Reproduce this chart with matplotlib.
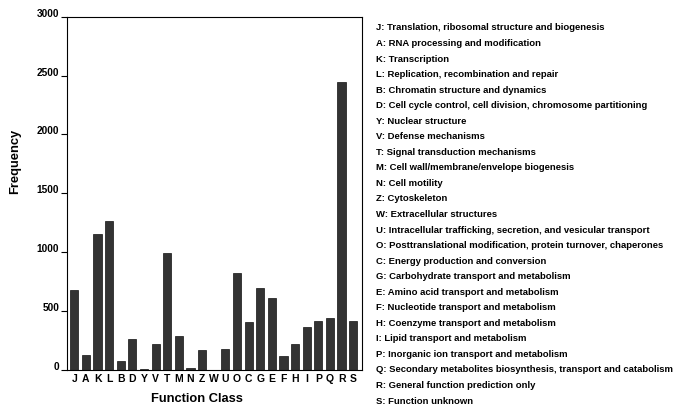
import matplotlib
matplotlib.use('Agg')
from matplotlib import pyplot as plt

classes = ['J', 'A', 'K', 'L', 'B', 'D', 'Y', 'V', 'T', 'M', 'N', 'Z', 'W',
           'U', 'O', 'C', 'G', 'E', 'F', 'H', 'I', 'P', 'Q', 'R', 'S']
counts = [679, 127, 1155, 1265, 79, 260, 8, 221, 996, 292, 14, 167, 0,
          178, 821, 410, 693, 609, 116, 221, 365, 416, 439, 2442, 416]
descriptions = [
    'Translation, ribosomal structure and biogenesis',
    'RNA processing and modification',
    'Transcription',
    'Replication, recombination and repair',
    'Chromatin structure and dynamics',
    'Cell cycle control, cell division, chromosome partitioning',
    'Nuclear structure',
    'Defense mechanisms',
    'Signal transduction mechanisms',
    'Cell wall/membrane/envelope biogenesis',
    'Cell motility',
    'Cytoskeleton',
    'Extracellular structures',
    'Intracellular trafficking, secretion, and vesicular transport',
    'Posttranslational modification, protein turnover, chaperones',
    'Energy production and conversion',
    'Carbohydrate transport and metabolism',
    'Amino acid transport and metabolism',
    'Nucleotide transport and metabolism',
    'Coenzyme transport and metabolism',
    'Lipid transport and metabolism',
    'Inorganic ion transport and metabolism',
    'Secondary metabolites biosynthesis, transport and catabolism',
    'General function prediction only',
    'Function unknown',
]
yticks = [0, 500, 1000, 1500, 2000, 2500, 3000]

plt.rcParams['font.family'] = ['Liberation Sans', 'DejaVu Sans']
plt.rcParams['font.weight'] = 'bold'

fig = plt.figure(figsize=(6.83, 4.17), dpi=100)
ax = fig.add_axes([0.0977, 0.1127, 0.433, 0.8473])

x = range(len(classes))
ax.bar(x, counts, width=0.7, color='#333333', edgecolor='#111111', linewidth=0.5)

ax.set_xlim(-0.65, 24.8)
ax.set_ylim(0, 3000)
ax.set_xticks(list(x))
ax.set_xticklabels(classes, fontsize=7.5, fontweight='bold')
ax.set_yticks(yticks)
ax.set_yticklabels([str(v) for v in yticks], fontsize=7.3, fontweight='bold')
plt.setp(ax.get_yticklabels(), va='baseline')
ax.tick_params(axis='x', length=0, pad=3)
ax.tick_params(axis='y', length=4, width=0.8, pad=1.5)
for s in ax.spines.values():
    s.set_linewidth(0.8)

fig.text(0.022, 1 - 161 / 417, 'Frequency', rotation=90, ha='center', va='center',
         fontsize=9.3, fontweight='bold')
fig.text(197 / 683, 1 - 399 / 417, 'Function Class', ha='center', va='center',
         fontsize=9.3, fontweight='bold')

top = 1 - 28 / 417
bottom = 1 - 401 / 417
step = (top - bottom) / (len(classes) - 1)
for i, (c, d) in enumerate(zip(classes, descriptions)):
    fig.text(376 / 683, top - i * step, c + ': ' + d, ha='left', va='center',
             fontsize=6.8, fontweight='bold')

fig.savefig('out.png', dpi=100)
